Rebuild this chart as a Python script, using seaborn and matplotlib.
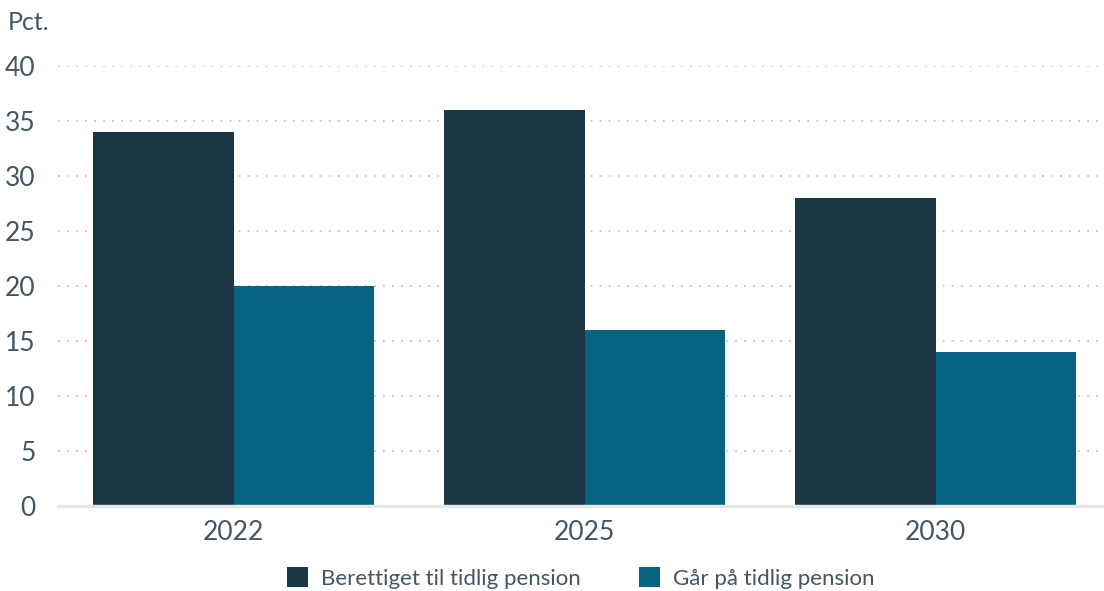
import pandas as pd
import matplotlib.pyplot as plt
import seaborn as sns

# data
years = ["2022", "2025", "2030"]
berettiget = [34, 36, 28]
gaar = [20, 16, 14]
series_names = ["Berettiget til tidlig pension", "Går på tidlig pension"]
colors = ["#1b3645", "#066482"]

df = pd.DataFrame({
    "year": years * 2,
    "value": berettiget + gaar,
    "serie": [series_names[0]] * 3 + [series_names[1]] * 3,
})

sns.set_style("white")
plt.rcParams["font.family"] = ["Lato", "DejaVu Sans"]
plt.rcParams["font.weight"] = "normal"
text_color = "#435663"

fig = plt.figure(figsize=(11.04, 5.91), dpi=100)
ax = fig.add_axes([58 / 1104, 85 / 591, 1046 / 1104, 440 / 591])

sns.barplot(data=df, x="year", y="value", hue="serie", palette=colors,
            width=0.8, gap=0, saturation=1, linewidth=0, ax=ax, legend=True)

ax.set_xlim(-0.5, 2.48)
ax.set_ylim(0, 40)
ax.set_yticks(range(0, 41, 5))
ax.set_xlabel("")
ax.set_ylabel("")

ax.grid(axis="y", color="#c4c4c4", linestyle=(0, (1, 4)), linewidth=1.3)
ax.set_axisbelow(True)
for side in ["top", "right", "left"]:
    ax.spines[side].set_visible(False)
ax.spines["bottom"].set_color("#e6e6e6")
ax.spines["bottom"].set_linewidth(2.5)

ax.tick_params(axis="y", length=0, pad=16, labelsize=19, labelcolor=text_color)
ax.tick_params(axis="x", length=0, pad=10, labelsize=19, labelcolor=text_color)

fig.text(8 / 1104, 1 - 22 / 591, "Pct.", fontsize=18, color=text_color,
         va="center", ha="left")

handles, labels = ax.get_legend_handles_labels()
ax.legend(handles, labels, loc="center", bbox_to_anchor=(0.5, -(578 - 506) / 440),
          ncol=2, frameon=False, fontsize=16, labelcolor=text_color,
          handlelength=0.95, handleheight=0.95, handletextpad=0.6, columnspacing=2.6)

fig.savefig("out.png", dpi=100)
